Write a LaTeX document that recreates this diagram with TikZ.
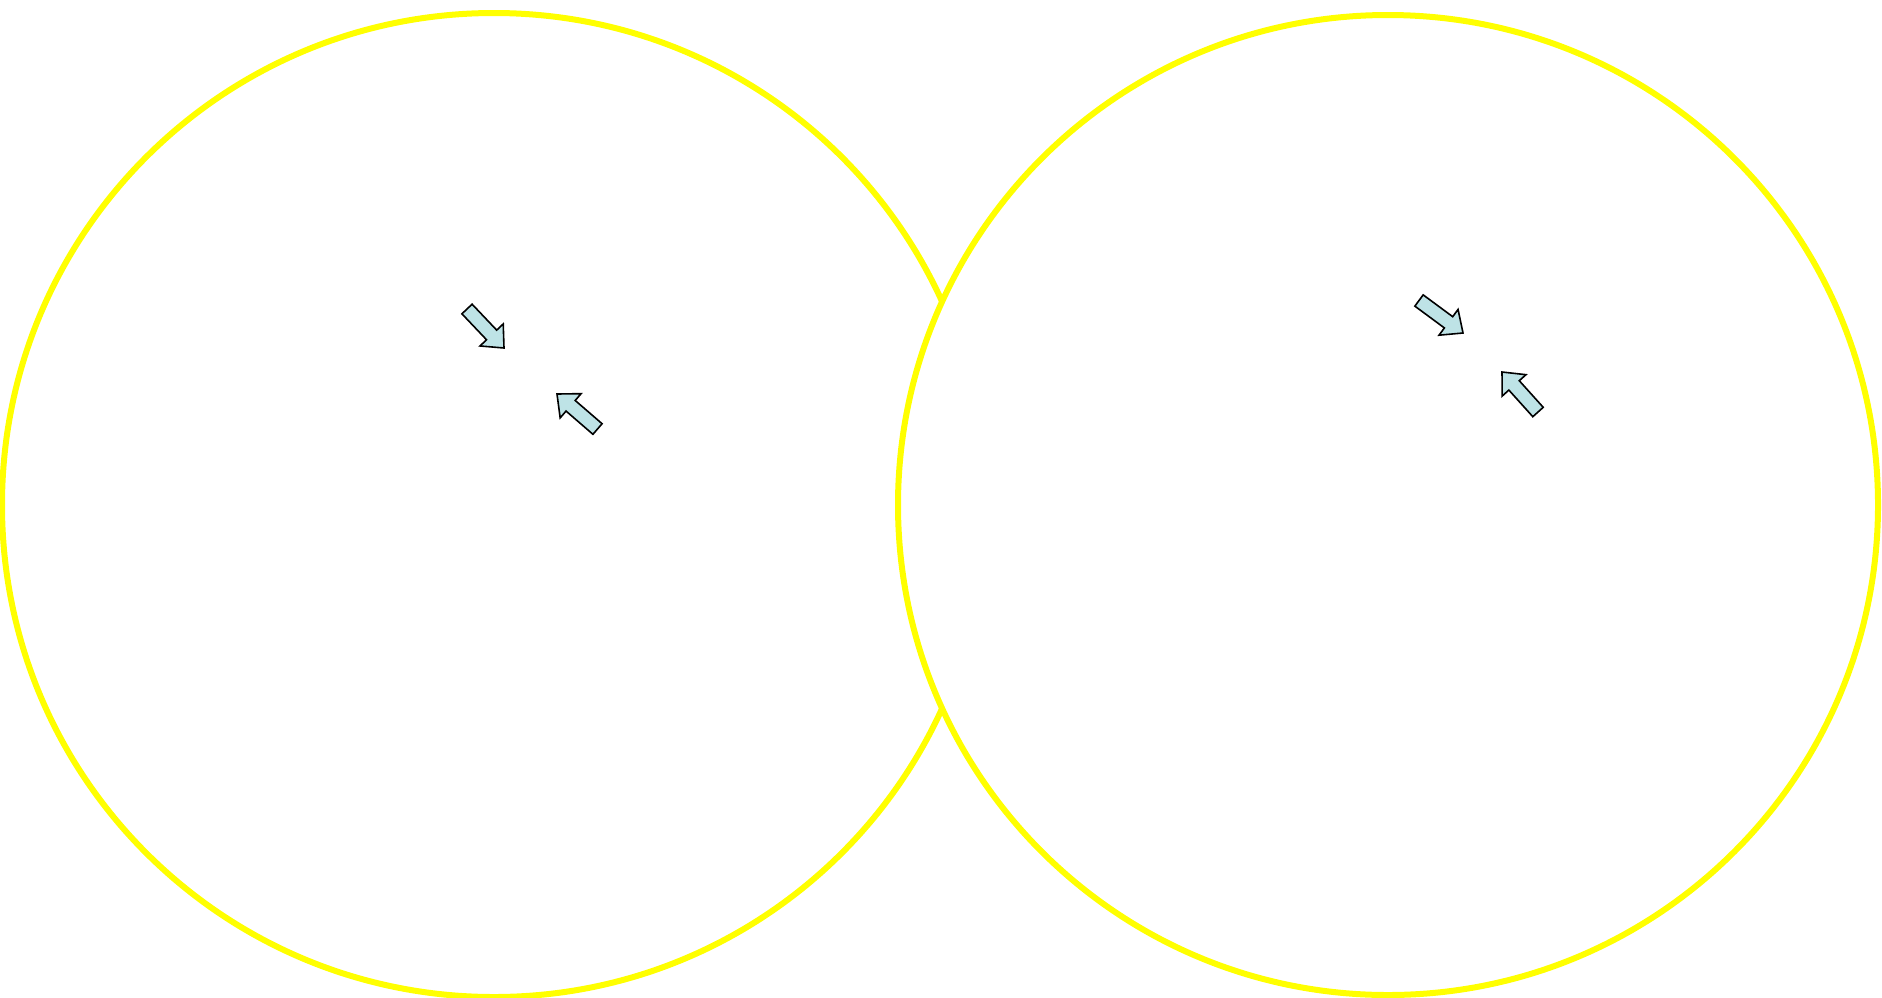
\documentclass[tikz,border=0pt]{standalone}
\usetikzlibrary{calc}
\definecolor{ringyellow}{RGB}{255,255,0}
\definecolor{arrowfill}{RGB}{190,227,230}
\tikzset{
  ring/.style={draw=ringyellow, line width=3pt},
  blockarrow/.style={draw=black, fill=arrowfill, line width=0.8pt, line join=miter},
}
\newcommand{\fatarrow}[2]{%
  \draw[blockarrow]
    ($(#1)!3.5pt!90:(#2)$) --
    ($($(#2)!9pt!(#1)$)!3.5pt!-90:(#1)$) --
    ($($(#2)!9pt!(#1)$)!8pt!-90:(#1)$) --
    (#2) --
    ($($(#2)!9pt!(#1)$)!8pt!90:(#1)$) --
    ($($(#2)!9pt!(#1)$)!3.5pt!90:(#1)$) --
    ($(#1)!3.5pt!-90:(#2)$) -- cycle;}
\begin{document}
\begin{tikzpicture}[x=0.5pt,y=-0.5pt]
\useasboundingbox (0,0) rectangle (1882,997);
\fill[white] (0,0) rectangle (1882,997);
\coordinate (lc) at (494,505);
\coordinate (rc) at (1388,505);
\draw[ring] (lc) circle (492);
\draw[ring, fill=white] (rc) circle (490);
% left arrows
\coordinate (la1t) at (467,309);
\coordinate (la1h) at (504,348);
\coordinate (la2t) at (597.5,429);
\coordinate (la2h) at (557,394);
% right arrows
\coordinate (ra1t) at (1419,300.5);
\coordinate (ra1h) at (1463,333);
\coordinate (ra2t) at (1538,412);
\coordinate (ra2h) at (1502,372);
\fatarrow{la1t}{la1h}
\fatarrow{la2t}{la2h}
\fatarrow{ra1t}{ra1h}
\fatarrow{ra2t}{ra2h}
\end{tikzpicture}
\end{document}
